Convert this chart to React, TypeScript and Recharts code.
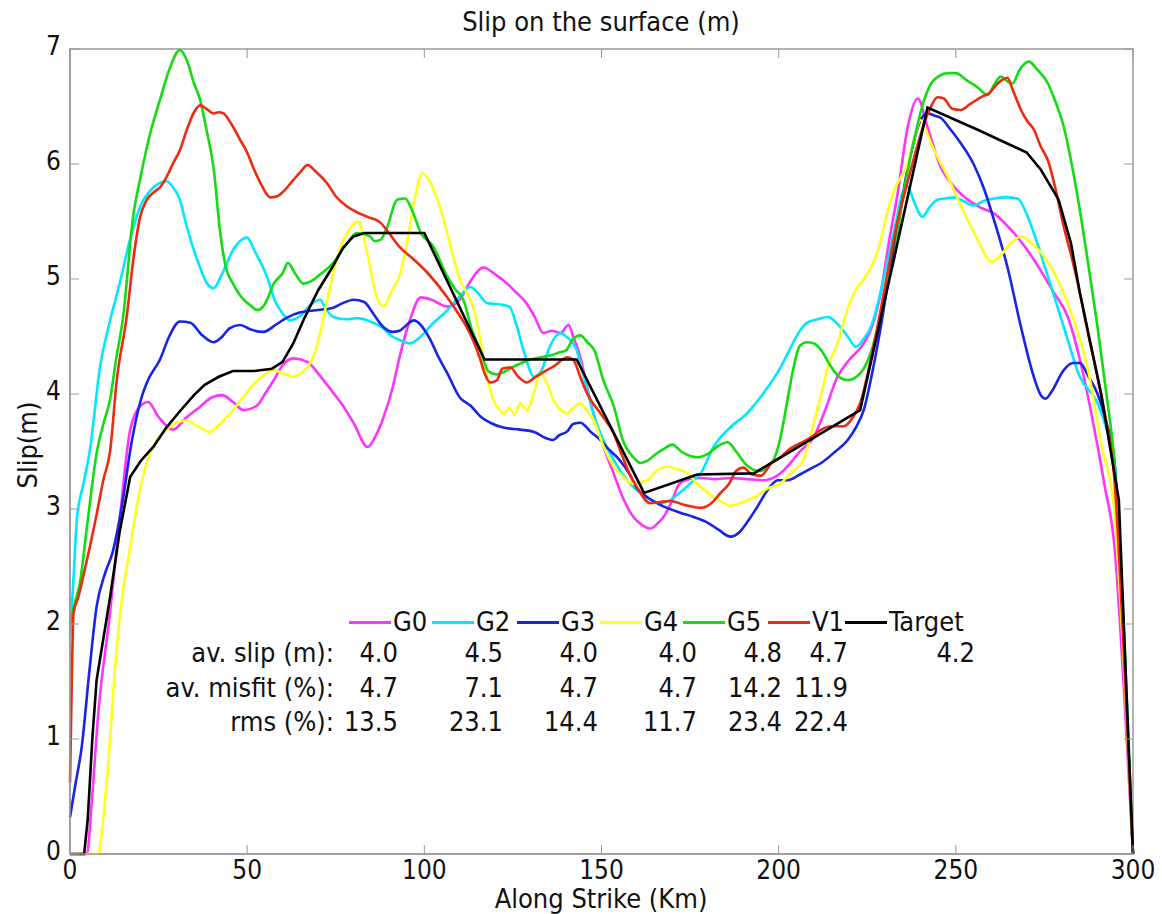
import React from 'react';
import { LineChart, Line, XAxis, YAxis, ReferenceArea } from 'recharts';

const FONT = '"Liberation Sans Narrow", "DejaVu Sans Condensed", Lato, sans-serif';
const AXIS = '#9a9a9a';
const PL = 70, PR = 1133, PT = 49, PB = 854;

const X_TICKS = [0, 50, 100, 150, 200, 250, 300];
const Y_TICKS = [0, 1, 2, 3, 4, 5, 6, 7];

// [along strike km, slip m]
const G0 = [[0,0],[4.8,0],[6,0.4],[8,1.23],[11.3,2.1],[14,2.9],[17,3.69],[20,3.9],[22,3.93],[25,3.8],[29,3.69],[33,3.8],[36.7,3.89],[40,3.97],[43,3.99],[46,3.93],[49,3.86],[52.8,3.9],[55,4.0],[57.5,4.12],[60,4.25],[63,4.31],[67,4.28],[70,4.18],[74.3,4.01],[77,3.9],[80,3.75],[84,3.54],[86,3.62],[88.5,3.8],[91,4.05],[93,4.32],[96,4.65],[99,4.84],[102,4.82],[106.5,4.76],[110,4.82],[113,4.98],[116.7,5.1],[120,5.04],[123.4,4.96],[126,4.88],[128,4.82],[131,4.68],[133.6,4.53],[136,4.55],[138.4,4.53],[140.7,4.6],[142,4.5],[144,4.32],[146,4.05],[148,3.8],[150.5,3.55],[153.4,3.31],[156,3.1],[159,2.93],[161.5,2.86],[163.8,2.83],[166,2.88],[167.5,2.93],[170,3.08],[172,3.22],[175,3.26],[178,3.27],[182,3.26],[186.4,3.27],[191,3.26],[195.8,3.25],[200.5,3.31],[202.5,3.37],[206,3.5],[210,3.63],[213,3.85],[216.6,4.15],[220,4.3],[224,4.44],[226.5,4.6],[228.8,4.88],[231,5.3],[233.6,5.75],[236.4,6.32],[239.3,6.57],[242,6.32],[245.8,5.97],[249,5.82],[253.4,5.69],[257,5.62],[260.8,5.57],[264,5.48],[266.4,5.4],[269,5.3],[272,5.17],[275,5.02],[277.7,4.88],[281.6,4.67],[285,4.3],[289,3.71],[292,3.2],[294.7,2.7],[297.5,1.4],[300,0]];

const G2 = [[0,1.89],[1,2.4],[2,2.93],[3.8,3.22],[5.6,3.51],[8.5,4.24],[11,4.6],[14,4.96],[17,5.35],[19.8,5.63],[23,5.78],[27.3,5.85],[29,5.8],[31,5.69],[33,5.45],[36.7,5.1],[38.5,4.97],[40.5,4.92],[43,5.05],[46,5.25],[48,5.33],[50,5.36],[52,5.25],[55.6,5.02],[58,4.8],[60,4.7],[62,4.64],[65,4.68],[68,4.78],[70.6,4.82],[72,4.75],[74.3,4.67],[78,4.65],[81,4.66],[84,4.64],[88,4.58],[91,4.5],[93,4.47],[96,4.44],[99,4.5],[102,4.6],[106.5,4.73],[110,4.85],[113,4.93],[115,4.88],[117.8,4.79],[121,4.78],[124,4.76],[126,4.6],[128,4.38],[131,4.15],[133,4.2],[135.5,4.42],[138.4,4.53],[140,4.5],[143,4.38],[145,4.15],[148,3.8],[150.5,3.6],[153.4,3.43],[156,3.3],[159,3.19],[163,3.1],[166.7,3.05],[169,3.07],[172,3.14],[175,3.22],[178,3.31],[181.6,3.54],[186,3.7],[191,3.83],[196,4.02],[200.5,4.23],[203,4.38],[206,4.55],[208,4.62],[211,4.65],[213.8,4.67],[217.5,4.58],[219.5,4.5],[221.8,4.41],[224,4.48],[226,4.58],[228.5,4.85],[230.8,5.17],[233,5.48],[235,5.75],[236.5,5.8],[238,5.69],[240.6,5.54],[242.5,5.62],[244.8,5.69],[247,5.7],[249.4,5.71],[252,5.68],[255,5.64],[258,5.68],[260.8,5.7],[264,5.71],[267.4,5.7],[269.5,5.6],[272,5.4],[276,5.02],[280.5,4.58],[285,4.15],[290,3.92],[292.5,3.7],[294.7,3.43],[297.5,1.8],[300,0]];

const G3 = [[0,0.32],[1.5,0.6],[3.3,0.93],[5.5,1.6],[7.5,2.15],[10,2.45],[12,2.62],[14.5,3.0],[17.5,3.6],[20,3.95],[22,4.12],[25.4,4.3],[28,4.5],[31,4.63],[34,4.62],[37,4.52],[40.5,4.45],[43,4.5],[45,4.57],[48,4.6],[51,4.56],[54.6,4.54],[58,4.6],[61,4.66],[65,4.71],[70,4.73],[74.3,4.75],[77,4.79],[80,4.82],[83,4.8],[86,4.68],[88.5,4.58],[91,4.54],[93,4.55],[95,4.6],[97,4.64],[99,4.6],[101.7,4.47],[104,4.32],[106.5,4.18],[110,3.97],[113,3.9],[116,3.8],[118.6,3.75],[122,3.71],[127,3.69],[131,3.67],[134,3.62],[136.4,3.6],[138,3.64],[140.5,3.68],[142,3.74],[144,3.75],[147,3.67],[149.7,3.6],[152,3.52],[155,3.43],[158,3.3],[160,3.18],[163,3.1],[167,3.03],[172,2.97],[176,2.93],[180,2.88],[183,2.82],[186.4,2.76],[189,2.8],[191,2.88],[194,3.02],[197,3.17],[199.7,3.25],[202.5,3.25],[206,3.3],[209,3.35],[212,3.4],[216,3.5],[219.5,3.6],[222,3.72],[224,3.86],[226.5,4.2],[228.8,4.58],[231,5.0],[233.6,5.45],[236,5.9],[238,6.18],[240,6.38],[242,6.44],[244,6.42],[245.8,6.4],[248.5,6.3],[251.4,6.18],[255,6.0],[258,5.78],[260.8,5.51],[264.6,5.1],[268.4,4.58],[272,4.15],[274,3.99],[275.4,3.96],[277,4.02],[280.5,4.21],[283,4.27],[285,4.27],[287.5,4.15],[290,4.0],[292.5,3.75],[294.7,3.43],[297.5,1.7],[300,0]];

const G4 = [[0,0],[8,0],[9,0.2],[10.4,0.64],[13.2,1.8],[15,2.3],[17,2.67],[19,3.05],[21.6,3.4],[24,3.58],[27.3,3.69],[30,3.75],[33,3.77],[36,3.72],[39.5,3.67],[42,3.73],[46,3.86],[49,3.98],[51.7,4.08],[54,4.15],[57.3,4.21],[60,4.18],[63,4.15],[65,4.18],[67,4.23],[69,4.35],[70.6,4.53],[72.5,4.8],[74.3,5.05],[76,5.25],[78.2,5.4],[81.4,5.5],[83,5.35],[84.7,5.1],[86.5,4.85],[88.5,4.76],[90.5,4.88],[93.2,5.05],[95,5.3],[97,5.65],[99.4,5.92],[101.5,5.85],[103.7,5.69],[106,5.45],[108.2,5.19],[110,5.0],[112,4.88],[113,4.82],[115,4.6],[116.7,4.3],[118,4.1],[119.5,3.95],[121,3.87],[122.4,3.83],[124,3.88],[125.5,3.82],[127,3.92],[129,3.86],[131,4.02],[132.8,4.18],[134.5,4.1],[136.4,3.95],[138,3.88],[140.3,3.83],[142,3.88],[144,3.92],[146,3.85],[147.8,3.77],[150.5,3.55],[153.4,3.37],[156,3.28],[159,3.22],[163,3.25],[165,3.32],[168.6,3.37],[171,3.35],[174.3,3.31],[177,3.22],[180,3.14],[183,3.08],[186.4,3.03],[189,3.05],[193,3.1],[197,3.18],[200.5,3.22],[203,3.3],[207,3.43],[209.5,3.7],[212,4.0],[214,4.25],[216.6,4.44],[219,4.7],[221.3,4.88],[224,5.0],[226,5.1],[228.5,5.3],[230.8,5.6],[233,5.8],[236.4,6.0],[238.5,6.25],[240,6.38],[241.5,6.3],[243,6.18],[245.5,6.02],[247.7,5.89],[250.5,5.7],[253.4,5.51],[256.5,5.32],[260,5.15],[262.5,5.2],[264.6,5.28],[268.4,5.37],[271,5.32],[274,5.23],[278.8,4.99],[282.5,4.71],[287.3,4.21],[291,3.57],[294.7,2.99],[297.5,1.6],[300,0]];

const G5 = [[0,2.0],[1.5,2.2],[2.8,2.36],[5,2.9],[7.6,3.5],[9.5,3.75],[11.3,3.95],[13,4.3],[15,4.67],[17.8,5.54],[20,5.9],[22.5,6.25],[25.4,6.56],[28,6.82],[31,6.99],[33,6.9],[35,6.7],[36.7,6.56],[38.5,6.3],[40.5,5.97],[42.4,5.4],[44,5.1],[46,4.96],[49,4.82],[51,4.77],[52.8,4.73],[54.5,4.76],[55.6,4.82],[57.5,4.96],[60,5.05],[61.5,5.14],[63.5,5.05],[65.9,4.96],[68,4.98],[71,5.05],[74.3,5.14],[77.5,5.28],[81,5.4],[84.7,5.37],[86,5.33],[87.6,5.34],[89.5,5.45],[92.3,5.69],[94.6,5.7],[96.5,5.6],[99,5.4],[102.6,5.28],[106,5.05],[108.5,4.92],[111,4.82],[113.5,4.55],[115.8,4.38],[118,4.2],[120.5,4.17],[123,4.2],[126,4.25],[130,4.3],[133,4.32],[136,4.34],[138,4.36],[140,4.38],[142,4.48],[144,4.51],[146,4.45],[148,4.38],[150.5,4.12],[153.5,3.89],[156,3.6],[159,3.45],[161,3.4],[163,3.42],[165,3.47],[167.5,3.52],[170,3.56],[172.5,3.5],[175,3.46],[177,3.45],[180,3.48],[183,3.55],[185.6,3.58],[188,3.5],[191,3.38],[193,3.34],[195,3.33],[197,3.38],[198.6,3.43],[200.5,3.62],[202.5,3.95],[204,4.2],[206,4.42],[208,4.45],[210,4.44],[212,4.38],[214.5,4.25],[217,4.15],[219.5,4.12],[222,4.15],[224,4.22],[226,4.36],[228.5,4.65],[230.5,4.95],[232.5,5.17],[235,5.7],[238,6.18],[240.5,6.5],[243,6.7],[245,6.76],[247.7,6.79],[250,6.79],[253,6.73],[256,6.67],[259,6.6],[261,6.7],[262.7,6.76],[264.5,6.72],[266,6.7],[268,6.82],[270.6,6.89],[273,6.82],[276,6.7],[278,6.55],[280.5,6.32],[283,5.95],[285,5.6],[287.5,5.1],[290,4.58],[292.5,4.0],[294.7,3.43],[297.5,1.9],[300,0]];

const V1 = [[0,0.62],[0.5,1.5],[1,2.1],[2.3,2.23],[4,2.45],[5.6,2.67],[7.5,2.95],[9.4,3.25],[11.3,3.5],[13.2,4.12],[16,4.67],[18,5.2],[19.8,5.54],[21.5,5.68],[23.5,5.75],[25.5,5.8],[27.3,5.89],[29,6.0],[31,6.12],[33,6.3],[35,6.45],[36.7,6.51],[38.5,6.48],[40.5,6.44],[42,6.45],[43.3,6.44],[45.5,6.35],[48,6.21],[50,6.1],[51.7,5.97],[54,5.82],[56.5,5.71],[58.5,5.72],[60.2,5.76],[63,5.86],[65,5.93],[67,5.99],[69.5,5.93],[72.6,5.83],[75,5.72],[78.2,5.63],[81,5.58],[84,5.54],[87.6,5.49],[90,5.4],[93,5.28],[97,5.17],[101,5.05],[106.5,4.84],[110,4.68],[112,4.58],[114,4.45],[115.8,4.3],[117,4.18],[118.6,4.1],[120.5,4.12],[122,4.22],[124.3,4.23],[126.5,4.15],[129,4.1],[131,4.14],[133,4.18],[134.7,4.21],[137,4.25],[139,4.3],[140.3,4.32],[142,4.3],[144,4.15],[146,4.0],[150,3.82],[153.4,3.66],[156,3.45],[158,3.3],[160,3.19],[163.8,3.05],[166.5,3.06],[169.5,3.07],[173,3.04],[178,3.01],[181,3.05],[183.6,3.14],[186,3.22],[188,3.33],[190,3.36],[192.5,3.3],[195,3.29],[198,3.4],[200.5,3.45],[203,3.52],[206,3.57],[209,3.62],[212,3.69],[215,3.72],[218.4,3.72],[221,3.8],[223,3.92],[226,4.3],[228.8,4.73],[231,5.1],[233.6,5.51],[236,5.8],[238,6.03],[240.5,6.3],[243,6.5],[244.8,6.58],[246.6,6.57],[249,6.48],[251.4,6.47],[254,6.52],[257,6.58],[259.5,6.62],[261.8,6.7],[263,6.73],[264.6,6.75],[266,6.65],[268.4,6.47],[270,6.38],[272,6.3],[274,6.15],[276,6.03],[278,5.8],[280.5,5.45],[283,5.15],[285,4.88],[287.5,4.5],[290,4.15],[292.5,3.75],[294.7,3.28],[297.5,1.7],[300,0]];

const TARGET = [[0,0],[4,0],[5,0.3],[6.3,1.0],[7.5,1.51],[11.3,2.23],[14,2.8],[17,3.28],[20,3.42],[23.5,3.54],[27,3.7],[31,3.85],[35,3.99],[38,4.08],[42,4.15],[46,4.2],[52,4.2],[57,4.22],[60,4.28],[63,4.44],[66,4.65],[70,4.9],[74,5.1],[77,5.27],[80,5.37],[83,5.4],[100,5.4],[117,4.3],[143,4.3],[162,3.14],[177,3.3],[193,3.31],[223,3.86],[232.5,5.17],[242,6.49],[256,6.3],[270,6.1],[274,5.95],[279,5.69],[282.5,5.31],[285,4.88],[291,4.0],[296,3.08],[300,0]];

const SERIES = [
  { name: 'G0', color: '#ff33ff', pts: G0, type: 'monotone' },
  { name: 'G2', color: '#00e8ff', pts: G2, type: 'monotone' },
  { name: 'G3', color: '#1a24e6', pts: G3, type: 'monotone' },
  { name: 'G4', color: '#ffff1a', pts: G4, type: 'monotone' },
  { name: 'G5', color: '#14dc14', pts: G5, type: 'monotone' },
  { name: 'V1', color: '#ee2a10', pts: V1, type: 'monotone' },
  { name: 'Target', color: '#000000', pts: TARGET, type: 'linear' },
];

const AV_SLIP = ['4.0', '4.5', '4.0', '4.0', '4.8', '4.7', '4.2'];
const AV_MISFIT = ['4.7', '7.1', '4.7', '4.7', '14.2', '11.9', ''];
const RMS = ['13.5', '23.1', '14.4', '11.7', '23.4', '22.4', ''];

// layout of the in-plot legend/table
const LEG_X = [349, 432, 517, 600, 683, 768, 845];
const COL_RIGHT = [398, 503, 598, 697, 782, 848, 975];

const toPts = (arr: number[][]) => arr.map(([km, v]) => ({ km, v }));

const YTick = ({ y, payload }: any) => (
  <g>
    <line x1={PL} x2={PL + 9} y1={y} y2={y} stroke={AXIS} />
    <line x1={PR - 9} x2={PR} y1={y} y2={y} stroke={AXIS} />
    <text x={PL - 9} y={y - 3} dy="0.35em" textAnchor="end" fontSize={26} fill="#111" fontFamily={FONT}>
      {payload.value}
    </text>
  </g>
);

const XTick = ({ x, payload }: any) => (
  <g>
    <line x1={x} x2={x} y1={PB} y2={PB - 9} stroke={AXIS} />
    <line x1={x} x2={x} y1={PT} y2={PT + 9} stroke={AXIS} />
    <text x={x} y={879} textAnchor="middle" fontSize={26} fill="#111" fontFamily={FONT}>
      {payload.value}
    </text>
  </g>
);

const txt: React.CSSProperties = {
  position: 'absolute',
  fontFamily: FONT,
  fontSize: 27,
  color: '#111',
  lineHeight: '30px',
  whiteSpace: 'nowrap',
};

export default function App() {
  const rows = [
    { label: 'av. slip (m):', vals: AV_SLIP, y: 653 },
    { label: 'av. misfit (%):', vals: AV_MISFIT, y: 688 },
    { label: 'rms (%):', vals: RMS, y: 722 },
  ];
  return (
    <div style={{ position: 'absolute', left: 0, top: 0, width: 1162, height: 914, background: '#fff' }}>
      <LineChart width={1162} height={914} margin={{ top: PT, right: 1162 - PR, bottom: 30, left: 10 }}>
        <XAxis
          dataKey="km"
          type="number"
          domain={[0, 300]}
          ticks={X_TICKS}
          tick={(p: any) => <XTick {...p} />}
          tickLine={false}
          axisLine={{ stroke: AXIS, strokeWidth: 1.5 }}
          height={30}
          allowDuplicatedCategory={false}
        />
        <YAxis
          type="number"
          domain={[0, 7]}
          ticks={Y_TICKS}
          tick={(p: any) => <YTick {...p} />}
          tickLine={false}
          axisLine={{ stroke: AXIS, strokeWidth: 1.5 }}
          width={60}
        />
        <ReferenceArea x1={0} x2={300} y1={0} y2={7} fill="none" stroke={AXIS} strokeWidth={1.5} />
        {SERIES.map((s) => (
          <Line
            key={s.name}
            data={toPts(s.pts)}
            dataKey="v"
            type={s.type as any}
            stroke={s.color}
            strokeWidth={2.6}
            dot={false}
            activeDot={false}
            isAnimationActive={false}
          />
        ))}
      </LineChart>

      <div style={{ ...txt, left: 601, top: 7, transform: 'translateX(-50%)' }}>Slip on the surface (m)</div>
      <div style={{ ...txt, left: 601, top: 886, lineHeight: '26px', transform: 'translateX(-50%)' }}>Along Strike (Km)</div>
      <div style={{ ...txt, left: 28, top: 445, transform: 'translate(-50%, -50%) rotate(-90deg)' }}>Slip(m)</div>

      {SERIES.map((s, i) => (
        <div key={s.name} style={{ ...txt, left: LEG_X[i], top: 607, display: 'flex', alignItems: 'center' }}>
          <span style={{ display: 'inline-block', width: 42, height: 3, background: s.color, marginRight: 2 }} />
          <span>{s.name}</span>
        </div>
      ))}

      {rows.map((r) => (
        <React.Fragment key={r.label}>
          <div style={{ ...txt, right: 1162 - 334, top: r.y - 15, textAlign: 'right' }}>{r.label}</div>
          {r.vals.map((v, i) => (
            <div key={i} style={{ ...txt, right: 1162 - COL_RIGHT[i], top: r.y - 15, textAlign: 'right' }}>{v}</div>
          ))}
        </React.Fragment>
      ))}
    </div>
  );
}
